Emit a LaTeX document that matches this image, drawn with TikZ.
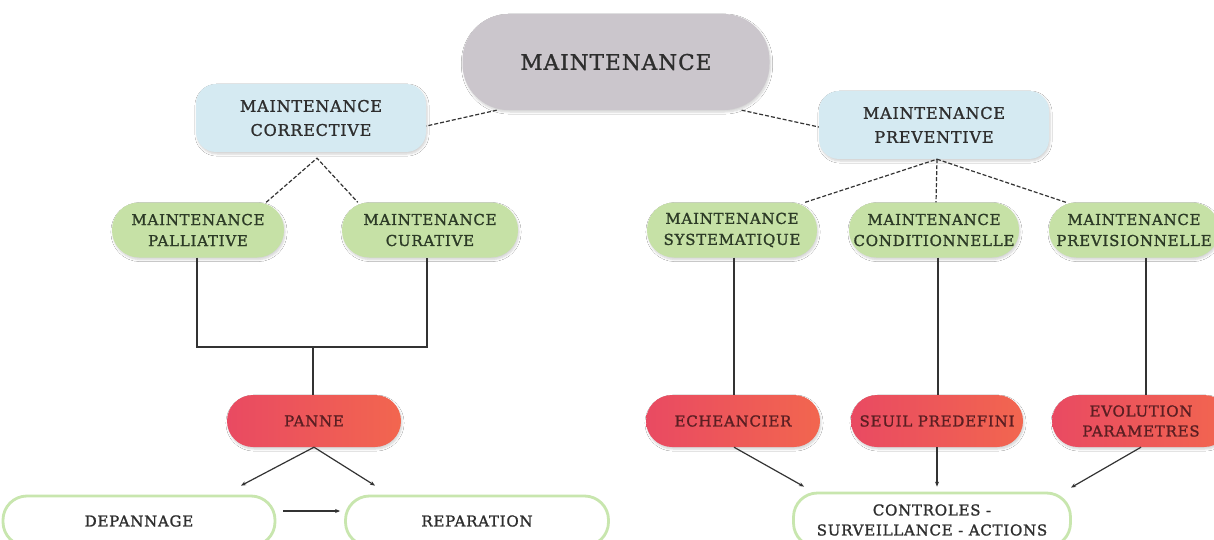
\documentclass[tikz,border=0pt]{standalone}
\usepackage{fontspec}
\setmainfont{DejaVu Serif}[LetterSpace=5,FakeBold=1.3]
\usetikzlibrary{arrows.meta,shadows.blur,calc}
\definecolor{txt}{HTML}{2E2E2E}
\definecolor{gtxt}{HTML}{2C3A26}
\definecolor{rtxt}{HTML}{5A1E22}
\definecolor{greyfill}{HTML}{CBC6CC}
\definecolor{bluefill}{HTML}{D5EAF2}
\definecolor{greenfill}{HTML}{C6E1A6}
\definecolor{redA}{HTML}{E94A62}
\definecolor{redB}{HTML}{F2664F}
\definecolor{greenline}{HTML}{C8E6AE}
\definecolor{linecol}{HTML}{333333}
\tikzset{
  lbl/.style={text=txt,align=center,inner sep=0pt,font=\fontsize{15}{21}\selectfont},
  shad/.style={blur shadow={shadow xshift=1pt,shadow yshift=-2pt,shadow opacity=18,shadow blur steps=6}},
  topbox/.style={lbl,shad,fill=greyfill,rounded corners=46pt,minimum width=307pt,minimum height=96pt,font=\fontsize{21.5}{24}\selectfont},
  bluebox/.style={lbl,shad,fill=bluefill,rounded corners=20pt,minimum width=230pt,minimum height=68pt,font=\fontsize{16}{24}\selectfont},
  greenbox/.style={lbl,shad,text=gtxt,fill=greenfill,rounded corners=27pt,minimum width=172pt,minimum height=55pt},
  redbox/.style={lbl,shad,text=rtxt,left color=redA,right color=redB,rounded corners=26pt,minimum width=174pt,minimum height=52pt,font=\fontsize{15}{20}\selectfont},
  whitebox/.style={lbl,fill=white,draw=greenline,line width=2.8pt,rounded corners=24pt,minimum height=50pt,font=\fontsize{15}{20}\selectfont},
  dashline/.style={draw=linecol,line width=1.2pt,dash pattern=on 4pt off 2pt},
  solidline/.style={draw=linecol,line width=1.2pt},
  arr/.style={solidline,-{Stealth[length=5pt,width=4pt]}}
}
\begin{document}
\begin{tikzpicture}[x=1pt,y=-1pt]
\useasboundingbox (0,0) rectangle (1214,540);
\fill[white] (0,0) rectangle (1214,540);

\node[topbox] (main) at (616,62) {MAINTENANCE};
\node[bluebox] (corr) at (311,118) {MAINTENANCE\\CORRECTIVE};
\node[bluebox] (prev) at (934,125) {MAINTENANCE\\PREVENTIVE};

\node[greenbox] (pall) at (198,230) {MAINTENANCE\\PALLIATIVE};
\node[greenbox,minimum width=176pt] (cura) at (430,230) {MAINTENANCE\\CURATIVE};
\node[greenbox,minimum width=170pt] (syst) at (732,230) {MAINTENANCE\\SYSTEMATIQUE};
\node[greenbox,minimum width=170pt] (cond) at (934,230) {MAINTENANCE\\CONDITIONNELLE};
\node[greenbox,minimum width=170pt] (prevs) at (1134,230) {MAINTENANCE\\PREVISIONNELLE};

\node[redbox] (panne) at (314,421) {PANNE};
\node[redbox] (ech) at (733,421) {ECHEANCIER};
\node[redbox,minimum width=172pt] (seuil) at (937,421) {SEUIL PREDEFINI};
\node[redbox,minimum width=178pt] (evol) at (1141,421) {EVOLUTION\\PARAMETRES};

\node[whitebox,minimum width=272pt] (dep) at (139,521) {DEPANNAGE};
\node[whitebox,minimum width=263pt] (rep) at (477,521) {REPARATION};
\node[whitebox,minimum width=277pt,minimum height=54pt] (ctrl) at (932,520) {CONTROLES -\\SURVEILLANCE - ACTIONS};

% dashed hierarchy
\draw[dashline] (main.202) -- (corr.-4);
\draw[dashline] (main.-21) -- (prev.181);
\coordinate (capex) at ([xshift=6pt,yshift=-6pt]corr.south);
\draw[dashline] ([xshift=-18pt]pall.north east) -- (capex) -- ([xshift=16pt]cura.north west);
\coordinate (papex) at ([xshift=3pt]prev.south);
\draw[dashline] ([xshift=-12pt]syst.north east) -- (papex);
\draw[dashline] (papex) -- ([xshift=2pt]cond.north);
\draw[dashline] (papex) -- ([xshift=17pt]prevs.north west);

% solid joins
\coordinate (join) at (313,347);
\draw[solidline] ([xshift=-1pt]pall.south) |- (join) -| ([xshift=-3pt]cura.south);
\draw[solidline] (join) -- ([xshift=-1pt]panne.north);
\draw[solidline] ([xshift=2pt]syst.south) -- ([xshift=1pt]ech.north);
\draw[solidline] ([xshift=1pt]seuil.north |- cond.south) -- ([xshift=1pt]seuil.north);
\draw[solidline] ([xshift=5pt]evol.north |- prevs.south) -- ([xshift=5pt]evol.north);

% arrows
\draw[arr] (panne.south) -- ([xshift=102pt,yshift=9pt]dep.north);
\draw[arr] (panne.south) -- ([xshift=-102pt,yshift=9pt]rep.north);
\draw[arr] ([xshift=7pt,yshift=10pt]dep.east) -- ([xshift=-4pt,yshift=10pt]rep.west);
\draw[arr] ([xshift=1pt]ech.south) -- ([xshift=-128pt,yshift=5pt]ctrl.north);
\draw[arr] (seuil.south) -- ([xshift=5pt,yshift=5pt]ctrl.north);
\draw[arr] (evol.south) -- ([xshift=139pt,yshift=4pt]ctrl.north);
\end{tikzpicture}
\end{document}
